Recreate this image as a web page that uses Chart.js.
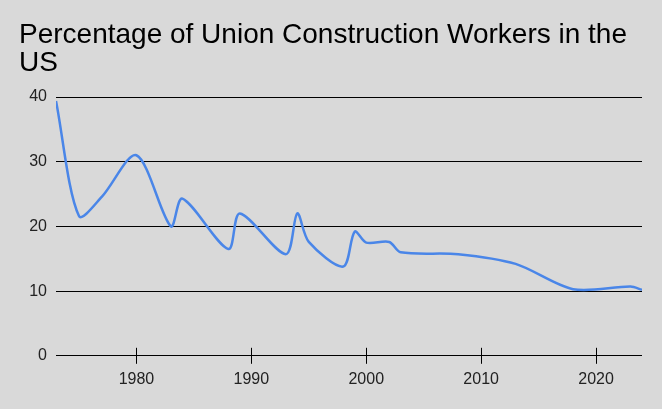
<!DOCTYPE html>
<html>
<head>
<meta charset="utf-8">
<script src="https://cdn.jsdelivr.net/npm/chart.js@4"></script>
<style>
    body { margin: 0; background: #d9d9d9; }
    #wrap { width: 662px; height: 409px; }
</style>
</head>
<body>
<div id="wrap"><canvas id="myChart" width="662" height="409"></canvas></div>
<script>
// values
const titleLines = ['Percentage of Union Construction Workers in the', 'US'];
const years = [1973, 1975, 1977, 1980, 1983, 1984, 1988, 1989, 1993, 1994, 1995, 1998, 1999, 2000, 2002, 2003, 2008, 2013, 2018, 2023, 2024];
const unionPct = [39.4, 21.6, 24.6, 31.0, 20.0, 24.3, 16.5, 22.0, 15.7, 22.0, 17.6, 13.8, 19.2, 17.5, 17.6, 16.0, 15.7, 14.2, 10.3, 10.7, 10.2];
const xTicks = [1980, 1990, 2000, 2010, 2020];
const yTicks = [0, 10, 20, 30, 40];

// short tick marks across the bottom axis line
const tickMarks = {
    id: 'tickMarks',
    afterDatasetsDraw(chart) {
        const ctx = chart.ctx;
        const x = chart.scales.x;
        const y0 = chart.scales.y.getPixelForValue(0);
        ctx.save();
        ctx.strokeStyle = '#000';
        ctx.lineWidth = 1;
        xTicks.forEach(v => {
            const px = Math.round(x.getPixelForValue(v)) + 0.5;
            ctx.beginPath();
            ctx.moveTo(px, y0 - 8);
            ctx.lineTo(px, y0 + 8);
            ctx.stroke();
        });
        ctx.restore();
    }
};

const ctx = document.getElementById('myChart').getContext('2d');
new Chart(ctx, {
    type: 'line',
    data: {
        datasets: [{
            data: years.map((yr, i) => ({ x: yr, y: unionPct[i] })),
            borderColor: '#4a86e8',
            borderWidth: 2.5,
            pointRadius: 0,
            tension: 0.3,
            fill: false
        }]
    },
    options: {
        responsive: false,
        animation: false,
        layout: { padding: { left: 19, right: 20, top: 0, bottom: 6 } },
        plugins: {
            legend: { display: false },
            tooltip: { enabled: false },
            title: {
                display: true,
                text: titleLines,
                align: 'start',
                color: '#000',
                font: { family: "'Liberation Sans', Arial, sans-serif", size: 28, weight: 'normal', lineHeight: 1.0 },
                padding: { top: 21, bottom: 20 }
            }
        },
        scales: {
            x: {
                type: 'linear',
                min: 1973,
                max: 2024,
                afterBuildTicks: scale => { scale.ticks = xTicks.map(v => ({ value: v })); },
                grid: { display: false, drawTicks: false },
                border: { display: false },
                ticks: {
                    color: '#222',
                    padding: 14,
                    maxRotation: 0,
                    font: { family: "'Liberation Sans', Arial, sans-serif", size: 16 },
                    callback: v => String(v)
                }
            },
            y: {
                min: 0,
                max: 40,
                afterBuildTicks: scale => { scale.ticks = yTicks.map(v => ({ value: v })); },
                afterFit: scale => { scale.width = 37; },
                grid: { color: '#000', lineWidth: 1, drawTicks: false },
                border: { display: false },
                ticks: {
                    color: '#222',
                    padding: 9,
                    font: { family: "'Liberation Sans', Arial, sans-serif", size: 16 }
                }
            }
        }
    },
    plugins: [tickMarks]
});
</script>
</body>
</html>
